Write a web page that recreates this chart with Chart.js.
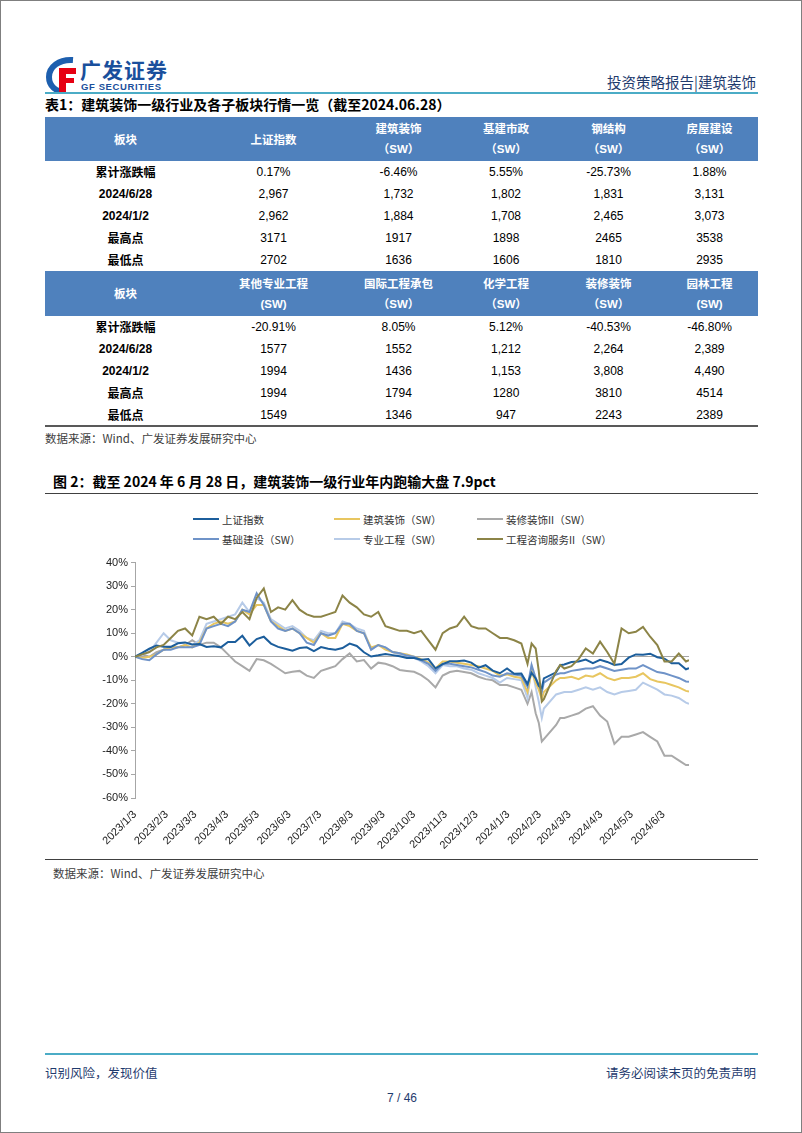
<!DOCTYPE html>
<html>
<head>
<meta charset="utf-8">
<script src="https://cdn.jsdelivr.net/npm/chart.js@4.4.1/dist/chart.umd.min.js"></script>
<style>
body { margin: 0; background: #fff; }
#page { position: relative; width: 802px; height: 1133px; border: 1px solid #7f7f7f; box-sizing: border-box;
  font-family: "Liberation Sans", "Noto Sans CJK SC", sans-serif; color: #000; overflow: hidden; }
.abs { position: absolute; white-space: nowrap; }
.cn { font-family: "Noto Sans CJK SC", sans-serif; }
.grid { position: absolute; left: 44px; width: 713px; display: grid;
  grid-template-columns: 161px 135px 115px 100px 105px 97px; }
.grid > div { display: flex; flex-direction: column; align-items: center; justify-content: center;
  font-size: 12px; line-height: 14px; overflow: hidden; white-space: nowrap; }
.grid > div.h { background: #4f81bd; color: #fff; font-weight: bold; font-size: 11.5px; line-height: 21px; }
.grid > div.k { font-weight: bold; }
#legend .item { position: absolute; display: flex; align-items: center; font-size: 10.5px; color: #333; }
#legend .sw { width: 26px; height: 2.5px; margin-right: 3px; }
</style>
</head>
<body>
<div id="page">
  <!-- header -->
  <svg class="abs" style="left:45px;top:55px" width="34" height="38">
    <path d="M27 4 C13 3 3 11 3 21 C3 30 10 36 19 36" stroke="#1d5fae" stroke-width="6" fill="none"/>
    <path d="M13 12 h17 v6 h-10 v4 h8 v5 h-8 v9 h-7z" fill="#e60012"/>
  </svg>
  <div class="abs cn" style="left:79px;top:56px;font-size:21px;line-height:24px;font-weight:bold;color:#1a4f9c;letter-spacing:1px">广发证券</div>
  <div class="abs" style="left:80px;top:81px;font-size:9.5px;line-height:10px;font-weight:bold;color:#1a4f9c;letter-spacing:0.6px">GF SECURITIES</div>
  <div class="abs cn" style="right:45px;top:70px;font-size:14.5px;color:#1f3b6e">投资策略报告|建筑装饰</div>
  <div class="abs" style="left:44px;top:91px;width:713px;height:2px;background:#4bacc6"></div>

  <div class="abs cn" style="left:44px;top:93px;font-size:14px;font-weight:bold;line-height:20px">表1：建筑装饰一级行业及各子板块行情一览（截至2024.06.28）</div>

  <div class="grid" style="top:116px;grid-template-rows:44px repeat(5,22px) 45px repeat(5,22px)">
    <div class="h cn">板块</div><div class="h cn">上证指数</div>
    <div class="h"><span class="cn">建筑装饰</span><span>（SW）</span></div>
    <div class="h"><span class="cn">基建市政</span><span>（SW）</span></div>
    <div class="h"><span class="cn">钢结构</span><span>（SW）</span></div>
    <div class="h"><span class="cn">房屋建设</span><span>（SW）</span></div>

    <div class="k cn">累计涨跌幅</div><div>0.17%</div><div>-6.46%</div><div>5.55%</div><div>-25.73%</div><div>1.88%</div>
    <div class="k">2024/6/28</div><div>2,967</div><div>1,732</div><div>1,802</div><div>1,831</div><div>3,131</div>
    <div class="k">2024/1/2</div><div>2,962</div><div>1,884</div><div>1,708</div><div>2,465</div><div>3,073</div>
    <div class="k cn">最高点</div><div>3171</div><div>1917</div><div>1898</div><div>2465</div><div>3538</div>
    <div class="k cn">最低点</div><div>2702</div><div>1636</div><div>1606</div><div>1810</div><div>2935</div>

    <div class="h cn">板块</div>
    <div class="h"><span class="cn">其他专业工程</span><span>(SW)</span></div>
    <div class="h"><span class="cn">国际工程承包</span><span>（SW）</span></div>
    <div class="h"><span class="cn">化学工程</span><span>（SW）</span></div>
    <div class="h"><span class="cn">装修装饰</span><span>（SW）</span></div>
    <div class="h"><span class="cn">园林工程</span><span>(SW)</span></div>

    <div class="k cn">累计涨跌幅</div><div>-20.91%</div><div>8.05%</div><div>5.12%</div><div>-40.53%</div><div>-46.80%</div>
    <div class="k">2024/6/28</div><div>1577</div><div>1552</div><div>1,212</div><div>2,264</div><div>2,389</div>
    <div class="k">2024/1/2</div><div>1994</div><div>1436</div><div>1,153</div><div>3,808</div><div>4,490</div>
    <div class="k cn">最高点</div><div>1994</div><div>1794</div><div>1280</div><div>3810</div><div>4514</div>
    <div class="k cn">最低点</div><div>1549</div><div>1346</div><div>947</div><div>2243</div><div>2389</div>
  </div>
  <div class="abs" style="left:44px;top:424px;width:713px;height:2px;background:#595959"></div>
  <div class="abs cn" style="left:44px;top:429px;font-size:11.5px;color:#404040">数据来源：Wind、广发证券发展研究中心</div>

  <!-- figure -->
  <div class="abs cn" style="left:52px;top:470px;font-size:14px;font-weight:bold;line-height:20px">图 2：截至 2024 年 6 月 28 日，建筑装饰一级行业年内跑输大盘 7.9pct</div>
  <div class="abs" style="left:44px;top:492px;width:713px;height:1px;background:#404040"></div>
  <div id="legend"></div>
  <div class="abs" style="left:90px;top:552px;width:610px;height:300px"><canvas id="c" width="610" height="300"></canvas></div>
  <div class="abs" style="left:44px;top:858px;width:713px;height:1px;background:#404040"></div>
  <div class="abs cn" style="left:52px;top:864px;font-size:11.5px;color:#404040">数据来源：Wind、广发证券发展研究中心</div>

  <!-- footer -->
  <div class="abs" style="left:44px;top:1052px;width:713px;height:2px;background:#4bacc6"></div>
  <div class="abs cn" style="left:44px;top:1062px;font-size:12.5px;color:#1f3b6e">识别风险，发现价值</div>
  <div class="abs cn" style="right:45px;top:1062px;font-size:12.5px;color:#1f3b6e">请务必阅读末页的免责声明</div>
  <div class="abs" style="left:0;width:802px;top:1090px;text-align:center;font-size:12px;color:#1f3b6e">7 / 46</div>
</div>

<script>
const dates = [
  '2023-01-03','2023-01-10','2023-01-17','2023-01-24','2023-01-31','2023-02-07','2023-02-14','2023-02-21','2023-02-28','2023-03-07',
  '2023-03-14','2023-03-21','2023-03-28','2023-04-04','2023-04-11','2023-04-18','2023-04-25','2023-05-02','2023-05-09','2023-05-16',
  '2023-05-23','2023-05-30','2023-06-06','2023-06-13','2023-06-20','2023-06-27','2023-07-04','2023-07-11','2023-07-18','2023-07-25',
  '2023-08-01','2023-08-08','2023-08-15','2023-08-22','2023-08-29','2023-09-05','2023-09-12','2023-09-19','2023-09-26','2023-10-03',
  '2023-10-10','2023-10-17','2023-10-24','2023-10-31','2023-11-07','2023-11-14','2023-11-21','2023-11-28','2023-12-05','2023-12-12',
  '2023-12-19','2023-12-26','2024-01-02',
  '2024-01-09','2024-01-16','2024-01-22','2024-01-26','2024-01-30','2024-02-02','2024-02-05','2024-02-07','2024-02-19','2024-02-23',
  '2024-02-27','2024-03-05','2024-03-12','2024-03-19','2024-03-26','2024-04-02','2024-04-09','2024-04-16','2024-04-23','2024-04-30',
  '2024-05-07','2024-05-14','2024-05-21','2024-05-28','2024-06-04','2024-06-11','2024-06-18','2024-06-25','2024-06-28'
];
const tickLabels = ['2023/1/3','2023/2/3','2023/3/3','2023/4/3','2023/5/3','2023/6/3','2023/7/3','2023/8/3','2023/9/3',
  '2023/10/3','2023/11/3','2023/12/3','2024/1/3','2024/2/3','2024/3/3','2024/4/3','2024/5/3','2024/6/3'];
const yTicks = [40, 30, 20, 10, 0, -10, -20, -30, -40, -50, -60];

const seriesNames = ['上证指数','建筑装饰（SW）','装修装饰II（SW）','基础建设（SW）','专业工程（SW）','工程咨询服务II（SW）'];
const seriesColors = ['#1c5e9c','#e8c660','#a9a9a9','#6f93c8','#b7cbe8','#8c8447'];

// % change vs 2023/1/3
const sse = [0,1.7,3.4,4.8,4.3,4.2,5.7,6.1,5.2,5.4,4.2,4.5,4.0,6.3,6.3,8.9,4.8,7.5,8.5,5.6,4.2,3.4,2.6,3.7,4.0,2.4,4.1,3.4,3.0,3.7,
  5.6,4.6,1.9,0.1,0.6,1.2,0.7,0.2,-0.5,-0.5,-1.3,-1.0,-4.9,-3.1,-1.9,-1.9,-1.6,-2.5,-4.6,-3.6,-5.9,-7.0,-5.0,
  -7.2,-7.1,-11.6,-6.8,-9.2,-12.4,-13.3,-9.2,-6.6,-3.6,-3.3,-2.2,-2.0,-1.2,-2.7,-1.3,-2.2,-3.5,-3.1,-0.4,1.0,0.9,1.3,-0.2,-0.8,
  -2.8,-2.8,-5.3,-4.8];
const jzzs = [0,-0.5,0,1,3,4,4,5,4,6,12,14,15,14,15,20,18,22,22,15,13,11,12,10,8,6,10,8,8,14,13,11,10,4,5,3,2,1.5,1,0,
  -1,-2.5,-5,-2,-2,-2.5,-3,-3.5,-4,-5,-6,-8,-7.5,
  -8.5,-9,-15,-6,-11,-14,-18,-15,-10,-9,-9,-8.5,-9.5,-8,-8.5,-7,-9,-10,-9,-9,-8.5,-7,-9.5,-10.5,-11,-12,-13,-14.5,-14.8];
const zxzs = [0,1,0,2,3,4,4,5,7,5,6,6,4,1,-2,-4,-6,-1,-1.5,-3,-5,-7,-6.4,-6,-8,-9,-6,-5,-4,-1,1.4,-2,-1.4,-5,-2.5,-3,-4,-5.6,-6,-6.4,
  -7.8,-10,-13,-8,-6.5,-6,-6.5,-7,-8.5,-9.5,-10,-12,-12,
  -13,-14,-20,-15,-24,-28,-36,-35,-29,-26,-26,-25,-24,-22,-21,-25,-27.5,-37,-34,-34,-33,-32,-34,-36,-42,-42,-44,-46,-46];
const jcjs = [0,-1,-1.5,1,3,3,4,4,4,5,12,13,14,13,15,20,19,27,22,15,12,11,12,10,6,5,10,9,10,14,14,11,10,3,5,4,2,1.5,0.5,0,
  -1.5,-3,-6,-3,-3,-3.5,-4,-4.5,-5.5,-6.5,-8,-8.5,-7,
  -7.5,-8,-12.7,-3.5,-9,-12,-15,-11,-7.5,-7,-7,-6,-5.5,-5,-5,-4,-5,-6,-5.5,-5,-5,-3.5,-5,-6.5,-7,-8,-9,-10.5,-10.6];
const zygc = [0,1,2,6,10,7,6,6,5,7,14,15,16,17,18,23,19,25,23,16,14,12,13,11,8,7,11,10,10,15,14,12,11,3,5,4,2,1,0.5,-0.5,
  -2,-4,-7,-3.5,-4,-4,-5,-5.5,-7,-8,-9,-11,-9,
  -9.5,-10,-17.6,-4,-13,-19,-26,-22,-16,-15.5,-15,-15,-14,-13,-14,-13,-15,-16,-15,-14.5,-14,-11,-12.5,-14,-16,-16.5,-17.5,-19.5,-20];
const gczx = [0,1,2,4,5,8,11,12,9,17,16,17,14,17,16,19,16,25,29,19,21,20,24,20,18,17,17,18,19,26,23,21,18,17,19,13,12,11,11,10,
  11,7,3,10,12,13,17,13,12,12,10,8,8,
  7,5.6,-3,5.6,3.5,-6,-19,-18,-6,-3.5,-5,-4,-1,3.5,1.4,6.4,2,-3,12,10,10.6,12.7,8.5,5,-2,-2,1.4,-2,-1.4];

const seriesValues = [sse, jzzs, zxzs, jcjs, zygc, gczx];
const drawOrder = [1, 3, 5, 2, 4, 0];

function dayOffset(s) {
  const p = s.split(/[-\/]/).map(Number);
  return (Date.UTC(p[0], p[1] - 1, p[2]) - Date.UTC(2023, 0, 3)) / 86400000;
}
const xDays = dates.map(dayOffset);
const tickDays = tickLabels.map(dayOffset);

// legend: 3 columns x 2 rows
const legendCols = [192, 333, 476];
const legendRows = [518, 538];
const legend = document.getElementById('legend');
seriesNames.forEach((name, i) => {
  const item = document.createElement('div');
  item.className = 'item cn';
  item.style.left = legendCols[i % 3] + 'px';
  item.style.top = (legendRows[Math.floor(i / 3)] - 8) + 'px';
  item.style.height = '16px';
  item.innerHTML = `<span class="sw" style="background:${seriesColors[i]}"></span><span>${name}</span>`;
  legend.appendChild(item);
});

const ctx = document.getElementById('c').getContext('2d');
new Chart(ctx, {
  type: 'line',
  data: {
    datasets: seriesNames.map((name, i) => ({
      label: name,
      data: seriesValues[i].map((v, j) => ({ x: xDays[j], y: v })),
      borderColor: seriesColors[i],
      borderWidth: 2,
      pointRadius: 0,
      tension: 0,
      order: drawOrder[i]
    }))
  },
  options: {
    responsive: false,
    animation: false,
    layout: { padding: { top: 7, right: 12, left: 0, bottom: 0 } },
    plugins: { legend: { display: false }, tooltip: { enabled: false } },
    scales: {
      x: {
        type: 'linear',
        min: 0,
        max: dayOffset('2024-06-28'),
        afterBuildTicks: scale => { scale.ticks = tickDays.map(v => ({ value: v })); },
        afterFit: scale => { scale.height = 55; },
        grid: { display: false },
        border: { display: false },
        ticks: {
          autoSkip: false,
          minRotation: 45,
          maxRotation: 45,
          padding: 2,
          color: '#222',
          font: { family: "'Liberation Sans', Arial, sans-serif", size: 11 },
          callback: (v, i) => tickLabels[i]
        }
      },
      y: {
        min: -60,
        max: 40,
        afterBuildTicks: scale => { scale.ticks = yTicks.map(v => ({ value: v })); },
        afterFit: scale => { scale.width = 44; },
        grid: {
          color: c => (c.tick && c.tick.value === 0) ? '#a6a6a6' : 'rgba(0,0,0,0)',
          tickColor: '#a6a6a6',
          tickLength: 4
        },
        border: { color: '#a6a6a6', width: 1 },
        ticks: {
          padding: 3,
          color: '#222',
          font: { family: "'Liberation Sans', Arial, sans-serif", size: 11 },
          callback: v => v + '%'
        }
      }
    }
  }
});
</script>
</body>
</html>
